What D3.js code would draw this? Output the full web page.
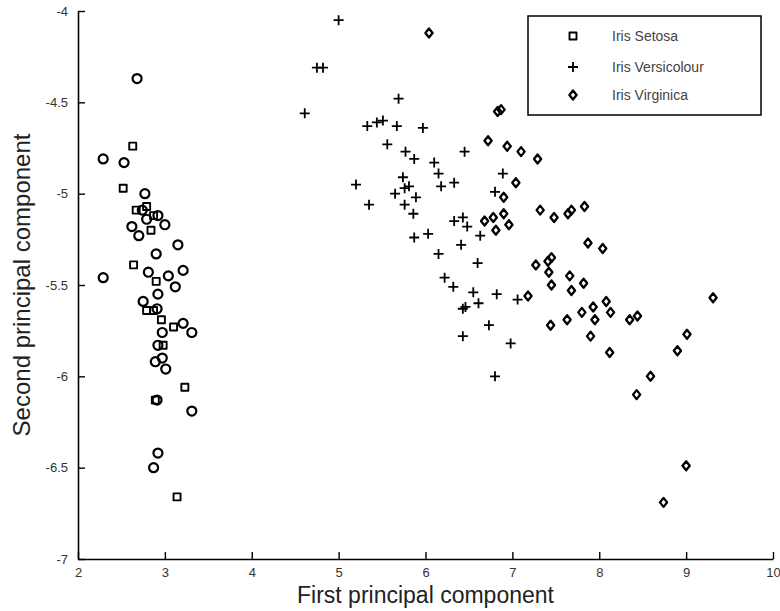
<!DOCTYPE html>
<html>
<head>
<meta charset="utf-8">
<script src="https://cdn.jsdelivr.net/npm/d3@7"></script>
<style>
  body { margin: 0; background: #fff; }
  svg { display: block; font-family: "Liberation Sans", Arial, sans-serif; }
</style>
</head>
<body>
<div id="chart"></div>
<script>
// iris PCA scatter

// Iris Setosa (drawn partly as squares, partly as circles in the figure)
const setosaSquareX = [2.63, 2.52, 2.79, 2.67, 2.87, 2.84, 2.64, 2.90, 2.79, 2.87, 2.96, 3.10, 2.98, 3.23, 2.89, 3.14];
const setosaSquareY = [-4.74, -4.97, -5.07, -5.09, -5.12, -5.20, -5.39, -5.48, -5.64, -5.64, -5.69, -5.73, -5.83, -6.06, -6.13, -6.66];

const setosaCircleX = [2.68, 2.29, 2.53, 2.77, 2.74, 2.79, 2.92, 3.00, 2.62, 2.70, 3.15, 2.90, 2.29, 2.81, 3.04, 3.21,
    3.12, 2.92, 2.75, 2.91, 3.21, 3.31, 2.97, 2.92, 2.97, 2.89, 3.01, 2.91, 3.31, 2.92, 2.87];
const setosaCircleY = [-4.37, -4.81, -4.83, -5.00, -5.09, -5.14, -5.12, -5.17, -5.18, -5.23, -5.28, -5.33, -5.46, -5.43, -5.45, -5.42,
    -5.51, -5.55, -5.59, -5.63, -5.71, -5.76, -5.76, -5.83, -5.90, -5.92, -5.96, -6.13, -6.19, -6.42, -6.50];

// Iris Versicolour
const versicolourX = [5.00, 4.75, 4.82, 4.61, 5.69, 5.33, 5.44, 5.51, 5.67, 5.97, 5.56, 5.77, 5.87, 6.45, 6.10, 6.15,
    6.18, 6.33, 5.20, 5.35, 5.74, 5.76, 5.81, 5.65, 5.89, 5.76, 5.86, 6.33, 6.43, 6.48, 6.03, 5.87,
    6.41, 6.15, 6.89, 6.80, 6.63, 6.60, 6.22, 6.32, 6.55, 6.61, 6.82, 6.43, 6.46, 6.73, 6.43, 7.06,
    6.98, 6.80];
const versicolourY = [-4.05, -4.31, -4.31, -4.56, -4.48, -4.63, -4.61, -4.60, -4.63, -4.64, -4.73, -4.77, -4.81, -4.77, -4.83, -4.89,
    -4.96, -4.94, -4.95, -5.06, -4.91, -4.97, -4.96, -5.00, -5.02, -5.06, -5.11, -5.15, -5.13, -5.18, -5.22, -5.24,
    -5.28, -5.33, -4.89, -4.99, -5.23, -5.38, -5.46, -5.51, -5.54, -5.60, -5.55, -5.63, -5.62, -5.72, -5.78, -5.58,
    -5.82, -6.00];

// Iris Virginica
const virginicaX = [6.04, 6.83, 6.87, 6.72, 6.94, 7.10, 7.29, 7.04, 6.90, 6.90, 6.68, 6.78, 6.81, 6.96, 7.32, 7.48,
    7.64, 7.68, 7.83, 7.87, 8.04, 7.27, 7.41, 7.45, 7.42, 7.45, 7.66, 7.68, 7.82, 7.18, 8.08, 7.93,
    8.13, 7.80, 7.63, 7.95, 7.44, 8.35, 8.44, 7.90, 8.12, 9.31, 9.01, 8.90, 8.59, 8.43, 9.00, 8.74];
const virginicaY = [-4.12, -4.55, -4.54, -4.71, -4.74, -4.77, -4.81, -4.94, -5.02, -5.11, -5.15, -5.13, -5.20, -5.17, -5.09, -5.13,
    -5.11, -5.09, -5.07, -5.27, -5.30, -5.39, -5.37, -5.35, -5.43, -5.50, -5.45, -5.53, -5.49, -5.56, -5.59, -5.62,
    -5.65, -5.65, -5.69, -5.69, -5.72, -5.69, -5.67, -5.78, -5.87, -5.57, -5.77, -5.86, -6.00, -6.10, -6.49, -6.69];

const xTicks = [2, 3, 4, 5, 6, 7, 8, 9, 10];
const xTickLabels = ['2', '3', '4', '5', '6', '7', '8', '9', '10'];
const yTicks = [-4, -4.5, -5, -5.5, -6, -6.5, -7];
const yTickLabels = ['-4', '-4.5', '-5', '-5.5', '-6', '-6.5', '-7'];

const legendLabels = ['Iris Setosa', 'Iris Versicolour', 'Iris Virginica'];

// marker shapes (outlined, like the matlab markers)
const plusSymbol = {
    draw(ctx, size) {
        const r = Math.sqrt(size) / 2;
        ctx.moveTo(-r, 0); ctx.lineTo(r, 0);
        ctx.moveTo(0, -r); ctx.lineTo(0, r);
    }
};
const diamondSymbol = {
    draw(ctx, size) {
        const h = Math.sqrt(size) / 2;
        const w = h * 0.8;
        ctx.moveTo(0, -h); ctx.lineTo(w, 0); ctx.lineTo(0, h); ctx.lineTo(-w, 0); ctx.closePath();
    }
};
const squareSymbol = {
    draw(ctx, size) {
        const r = Math.sqrt(size) / 2;
        ctx.rect(-r, -r, 2 * r, 2 * r);
    }
};

const zip = (xs, ys) => xs.map((x, i) => ({ x: x, y: ys[i] }));

class IrisScatter {
    constructor() {
        this.renderChart();
    }

    renderChart() {
        const W = 780, H = 611;
        const margin = { top: 11, right: 7, bottom: 52, left: 78 };
        const width = W - margin.left - margin.right;
        const height = H - margin.top - margin.bottom;

        const svg = d3.select('#chart')
            .append('svg')
            .attr('width', W)
            .attr('height', H);

        const g = svg.append('g')
            .attr('transform', `translate(${margin.left},${margin.top})`);

        const x = d3.scaleLinear().domain([2, 10]).range([0, width]);
        const y = d3.scaleLinear().domain([-7, -4]).range([height, 0]);

        // axes, ticks pointing inward
        const xAxis = g.append('g')
            .attr('transform', `translate(0,${height})`)
            .call(d3.axisBottom(x)
                .tickValues(xTicks)
                .tickFormat((d, i) => xTickLabels[i])
                .tickSizeInner(-7)
                .tickSizeOuter(0)
                .tickPadding(9));

        const yAxis = g.append('g')
            .call(d3.axisLeft(y)
                .tickValues(yTicks)
                .tickFormat((d, i) => yTickLabels[i])
                .tickSizeInner(-7)
                .tickSizeOuter(0)
                .tickPadding(10));

        [xAxis, yAxis].forEach(a => {
            a.select('.domain').attr('stroke', '#000').attr('stroke-width', 1.6);
            a.selectAll('.tick line').attr('stroke', '#000').attr('stroke-width', 1.4);
            a.selectAll('.tick text')
                .attr('fill', '#333')
                .style('font-size', '13px')
                .style('font-family', '"Liberation Sans", Arial, sans-serif');
        });

        // axis titles
        g.append('text')
            .attr('x', width / 2)
            .attr('y', height + 44)
            .attr('text-anchor', 'middle')
            .attr('font-size', '23px')
            .attr('fill', '#222')
            .text('First principal component');

        g.append('text')
            .attr('transform', `translate(${30 - margin.left},${height / 2}) rotate(-90)`)
            .attr('text-anchor', 'middle')
            .attr('font-size', '24px')
            .attr('fill', '#222')
            .text('Second principal component');

        const groups = [
            { data: zip(setosaSquareX, setosaSquareY), type: squareSymbol, size: 49, sw: 1.9 },
            { data: zip(setosaCircleX, setosaCircleY), type: d3.symbolCircle, size: 64, sw: 2.2 },
            { data: zip(versicolourX, versicolourY), type: plusSymbol, size: 100, sw: 1.8 },
            { data: zip(virginicaX, virginicaY), type: diamondSymbol, size: 81, sw: 2.3 }
        ];

        groups.forEach(s => {
            g.append('g')
                .selectAll('path')
                .data(s.data)
                .enter()
                .append('path')
                .attr('transform', d => `translate(${x(d.x)},${y(d.y)})`)
                .attr('d', d3.symbol().type(s.type).size(s.size))
                .attr('fill', 'none')
                .attr('stroke', '#000')
                .attr('stroke-width', s.sw)
                .attr('stroke-linejoin', 'round');
        });

        // legend
        const legend = svg.append('g')
            .attr('transform', 'translate(528,16)');

        legend.append('rect')
            .attr('width', 233)
            .attr('height', 99)
            .attr('fill', '#fff')
            .attr('stroke', '#000')
            .attr('stroke-width', 1.5);

        const legendSymbols = [groups[0], groups[2], groups[3]];
        const legendY = [20, 51, 79];

        legendLabels.forEach((label, i) => {
            const s = legendSymbols[i];
            legend.append('path')
                .attr('transform', `translate(45,${legendY[i]})`)
                .attr('d', d3.symbol().type(s.type).size(s.size))
                .attr('fill', 'none')
                .attr('stroke', '#000')
                .attr('stroke-width', s.sw)
                .attr('stroke-linejoin', 'round');

            legend.append('text')
                .attr('x', 84)
                .attr('y', legendY[i])
                .attr('dy', '0.35em')
                .attr('font-size', '14px')
                .attr('fill', '#444')
                .text(label);
        });
    }
}

document.addEventListener('DOMContentLoaded', () => {
    new IrisScatter();
});
</script>
</body>
</html>
